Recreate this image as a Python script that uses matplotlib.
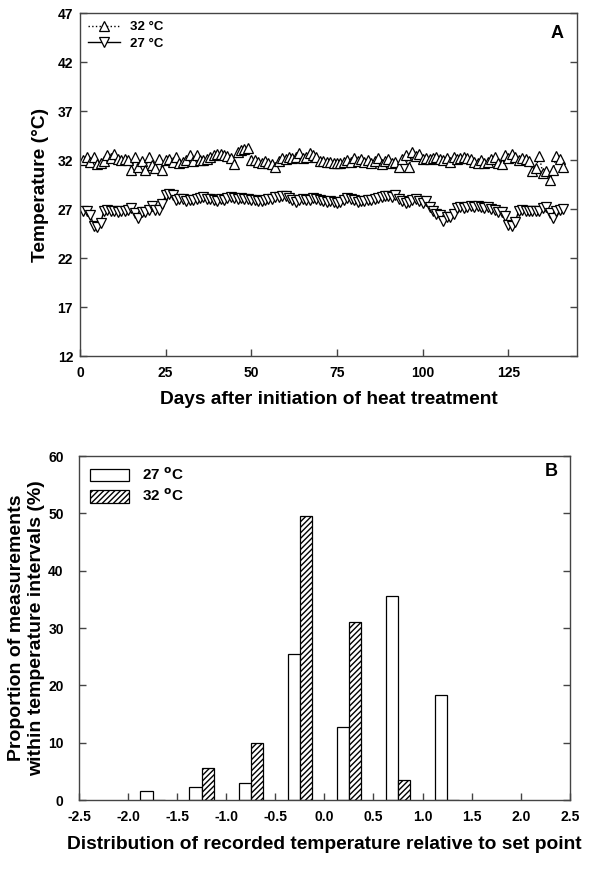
import numpy as np
import matplotlib.pyplot as plt

plt.rcParams['font.family'] = ['Liberation Sans', 'DejaVu Sans']
plt.rcParams['font.weight'] = 'bold'

# Panel A: daily mean temperature (days 1..141)
days = np.arange(1, 142)
temp_32 = [
    32.0, 32.3, 31.8, 32.3, 31.6, 31.7, 31.9, 32.5, 32.2, 32.6,
    32.1, 32.0, 32.1, 32.0, 31.0, 32.3, 31.3, 31.9, 31.0, 32.3,
    31.5, 31.2, 32.1, 31.0, 32.0, 32.1, 31.8, 32.3, 31.7, 31.8,
    32.0, 32.5, 31.9, 32.5, 32.0, 32.0, 32.1, 32.3, 32.5, 32.6,
    32.6, 32.5, 32.4, 32.2, 31.6, 32.8, 33.0, 33.1, 33.2, 32.0,
    32.0, 31.8, 31.7, 31.9, 31.7, 31.6, 31.3, 31.9, 32.2, 32.1,
    32.3, 32.2, 32.3, 32.7, 32.2, 32.3, 32.7, 32.5, 32.3, 31.9,
    31.9, 31.8, 31.8, 31.7, 31.7, 31.7, 31.8, 32.0, 31.8, 32.2,
    31.9, 32.1, 31.8, 32.0, 31.7, 31.9, 32.2, 31.6, 31.9, 32.1,
    31.7, 31.8, 31.3, 32.1, 32.5, 31.3, 32.8, 32.4, 32.6, 32.1,
    32.2, 32.1, 32.2, 32.3, 32.1, 32.0, 32.2, 31.8, 32.3, 32.1,
    32.2, 32.3, 32.2, 32.1, 31.8, 31.7, 32.0, 31.7, 31.8, 32.1,
    32.3, 31.7, 31.6, 32.5, 32.2, 32.6, 32.3, 32.0, 32.2, 32.1,
    31.9, 30.9, 31.2, 32.4, 30.7, 30.9, 30.0, 31.0, 32.4, 32.1, 31.3,
]
temp_27 = [
    26.8, 26.8, 26.4, 25.3, 25.2, 25.6, 26.8, 26.9, 26.8, 26.8,
    26.7, 26.8, 26.8, 26.9, 27.1, 26.6, 26.1, 26.7, 26.7, 26.9,
    27.3, 26.9, 26.9, 27.5, 28.4, 28.5, 28.4, 27.9, 28.0, 28.0,
    27.8, 27.9, 27.9, 28.0, 28.1, 28.2, 28.0, 28.0, 27.9, 27.8,
    28.0, 27.9, 28.1, 28.2, 28.1, 28.0, 28.1, 28.0, 28.0, 27.9,
    27.9, 27.8, 27.8, 27.9, 28.0, 28.0, 28.2, 28.2, 28.3, 28.3,
    28.1, 27.9, 27.7, 27.9, 28.0, 27.9, 27.9, 28.1, 28.0, 27.9,
    27.8, 27.7, 27.8, 27.7, 27.6, 27.7, 27.9, 28.1, 28.0, 27.9,
    27.7, 27.8, 27.8, 27.9, 27.9, 28.0, 28.1, 28.2, 28.3, 28.3,
    28.2, 28.4, 28.0, 27.8, 27.6, 27.7, 27.9, 28.0, 27.8, 27.6,
    27.8, 27.2, 26.8, 26.5, 26.4, 25.8, 26.2, 26.2, 26.5, 27.1,
    27.2, 27.1, 27.2, 27.3, 27.2, 27.3, 27.2, 27.1, 27.2, 27.0,
    26.9, 26.7, 26.7, 26.3, 25.4, 25.3, 25.7, 26.8, 26.9, 26.8,
    26.8, 26.8, 26.8, 26.8, 27.1, 27.2, 26.6, 26.1, 26.8, 26.9, 27.0,
]

# Panel B: distribution relative to set point
bin_centres = [-1.75, -1.25, -0.75, -0.25, 0.25, 0.75, 1.25]
prop_27 = [1.5, 2.2, 2.9, 25.5, 12.8, 35.5, 18.4]
prop_32 = [0.0, 5.65, 9.95, 49.6, 31.1, 3.55, 0.0]

spine_col = '#444444'
fig = plt.figure(figsize=(6, 8.81), dpi=100)

# ---- panel A ----
ax1 = fig.add_axes([0.1333, 0.5959, 0.8283, 0.3893])
ax1.plot(days, temp_32, linestyle=':', color='black', lw=1.0,
         marker='^', ms=7, mfc='white', mec='black', mew=0.9, label='32 °C')
ax1.plot(days, temp_27, linestyle='-', color='black', lw=1.0,
         marker='v', ms=7, mfc='white', mec='black', mew=0.9, label='27 °C')
ax1.set_xlim(0, 145)
ax1.set_ylim(12, 47)
ax1.set_xticks([0, 25, 50, 75, 100, 125])
ax1.set_yticks(np.arange(12, 48, 5))
ax1.set_xlabel('Days after initiation of heat treatment', fontsize=13.8, fontweight='bold', labelpad=8)
ax1.set_ylabel('Temperature (°C)', fontsize=13.8, fontweight='bold', labelpad=6)
ax1.text(0.96, 0.94, 'A', transform=ax1.transAxes, ha='center', va='center',
         fontsize=13, fontweight='bold')
ax1.legend(loc='upper left', frameon=False, fontsize=9.5, handlelength=2.4,
           borderaxespad=0.2, labelspacing=0.35)

# ---- panel B ----
ax2 = fig.add_axes([0.1317, 0.0919, 0.818, 0.3905])
w = 0.125
ax2.bar(np.array(bin_centres) - w / 2, prop_27, width=w, color='white',
        edgecolor='black', linewidth=0.9, label='27 $^{\\mathrm{o}}$C')
ax2.bar(np.array(bin_centres) + w / 2, prop_32, width=w, color='white',
        edgecolor='black', linewidth=0.9, hatch='//////', label='32 $^{\\mathrm{o}}$C')
ax2.set_xlim(-2.5, 2.5)
ax2.set_ylim(0, 60)
ax2.set_xticks(np.arange(-2.5, 2.51, 0.5))
ax2.set_xticklabels(['%.1f' % v for v in np.arange(-2.5, 2.51, 0.5)])
ax2.set_yticks(np.arange(0, 61, 10))
ax2.set_xlabel('Distribution of recorded temperature relative to set point',
               fontsize=13.8, fontweight='bold', labelpad=9)
ax2.set_ylabel('Proportion of measurements\nwithin temperature intervals (%)',
               fontsize=14, fontweight='bold', labelpad=2, linespacing=1.25)
ax2.text(0.963, 0.956, 'B', transform=ax2.transAxes, ha='center', va='center',
         fontsize=13, fontweight='bold')
ax2.legend(loc='upper left', frameon=False, fontsize=11, handlelength=2.6,
           handleheight=0.9, borderaxespad=0.3, labelspacing=0.3)

for ax in (ax1, ax2):
    for s in ax.spines.values():
        s.set_color(spine_col)
        s.set_linewidth(1.0)
    ax.tick_params(direction='in', length=5, width=1, color=spine_col,
                   labelsize=10, right=True, top=False)
    ax.tick_params(axis='x', pad=7)
    for lab in ax.get_xticklabels() + ax.get_yticklabels():
        lab.set_fontweight('bold')
ax1.tick_params(axis='y', pad=5)
ax2.tick_params(axis='y', pad=11)

fig.savefig('out.png', dpi=100)
